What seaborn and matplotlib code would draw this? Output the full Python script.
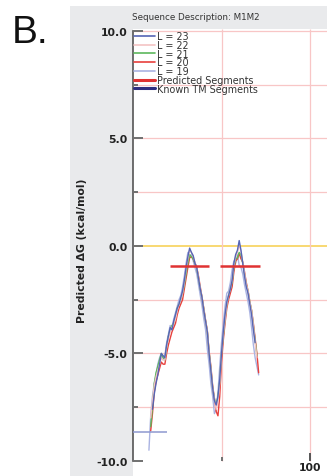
import numpy as np
import pandas as pd
import matplotlib
matplotlib.use("Agg")
import matplotlib.pyplot as plt
import seaborn as sns
from matplotlib.lines import Line2D
from matplotlib.patches import Rectangle

# ---------------- data ----------------
series_labels = ["L = 23", "L = 22", "L = 21", "L = 20", "L = 19"]
series_start = [11, 10, 10, 10, 9]
dg_L23 = [-7.6, -6.9, -6.4, -6.0, -5.5, -5.0, -5.1, -5.2, -4.6, -4.2, -3.8, -3.9, -3.5, -3.2, -2.9,
          -2.7, -2.4, -2.1, -1.6, -1.0, -0.5, -0.1, -0.3, -0.45, -0.8, -1.0, -1.5, -2.0, -2.4, -3.0,
          -3.5, -4.0, -5.0, -5.8, -6.6, -7.2, -7.4, -7.0, -6.2, -5.0, -4.0, -3.2, -2.6, -2.3, -2.0,
          -1.6, -0.8, -0.4, -0.2, 0.25, -0.2, -0.8, -1.4, -1.9, -2.2, -2.7, -3.2, -3.9, -4.5]
dg_L22 = [-8.0, -7.2, -6.5, -6.1, -5.8, -5.5, -5.2, -5.3, -5.3, -4.7, -4.3, -4.0, -3.8, -3.6, -3.4,
          -3.0, -2.7, -2.5, -2.2, -1.7, -1.1, -0.6, -0.2, -0.3, -0.5, -0.75, -1.0, -1.45, -1.95, -2.4,
          -2.95, -3.5, -4.0, -5.0, -5.7, -6.6, -7.1, -7.6, -7.2, -6.4, -5.0, -4.1, -3.4, -2.7, -2.3,
          -2.0, -1.6, -0.9, -0.5, -0.3, 0.05, -0.25, -0.75, -1.25, -1.8, -2.1, -2.6, -3.0, -3.7, -4.5, -5.2]
dg_L21 = [-8.4, -7.5, -6.4, -5.9, -5.6, -5.3, -5.0, -5.2, -5.3, -4.7, -4.2, -3.9, -3.7, -3.6, -3.3,
          -2.9, -2.7, -2.5, -2.2, -1.8, -1.3, -0.8, -0.4, -0.5, -0.6, -0.8, -1.05, -1.5, -2.0, -2.4,
          -2.95, -3.5, -4.0, -4.95, -5.7, -6.6, -7.1, -7.4, -7.0, -6.3, -5.0, -4.2, -3.4, -2.7, -2.3,
          -2.0, -1.7, -1.0, -0.6, -0.55, -0.3, -0.4, -0.8, -1.3, -1.8, -2.1, -2.6, -3.0, -3.7, -4.4, -5.1]
dg_L20 = [-8.6, -7.8, -6.8, -6.3, -6.0, -5.7, -5.4, -5.5, -5.5, -5.0, -4.6, -4.3, -4.0, -3.8, -3.6,
          -3.2, -2.9, -2.7, -2.5, -2.0, -1.5, -1.0, -0.55, -0.5, -0.6, -0.8, -1.0, -1.4, -1.9, -2.4,
          -2.9, -3.45, -3.95, -4.9, -5.6, -6.5, -7.1, -7.7, -7.9, -7.0, -5.4, -4.4, -3.6, -2.9, -2.5,
          -2.2, -1.9, -1.2, -0.7, -0.6, -0.35, -0.6, -0.75, -1.2, -1.7, -2.1, -2.6, -3.0, -3.6, -4.3,
          -5.0, -5.9]
dg_L19 = [-9.5, -7.9, -7.0, -6.4, -6.0, -5.5, -5.2, -5.0, -5.3, -5.1, -4.5, -4.1, -3.7, -3.8, -3.4,
          -3.1, -2.8, -2.5, -2.3, -1.9, -1.4, -0.8, -0.3, -0.5, -0.4, -0.7, -1.0, -1.3, -1.8, -2.3,
          -2.8, -3.4, -3.9, -4.8, -5.5, -6.4, -7.0, -7.8, -7.6, -6.8, -5.6, -4.5, -3.6, -2.8, -2.2,
          -2.1, -1.7, -1.1, -0.7, -0.8, -0.4, -0.9, -1.0, -1.3, -1.8, -2.2, -2.6, -3.1, -3.8, -4.6,
          -5.2, -5.6, -6.0]
series_values = [dg_L23, dg_L22, dg_L21, dg_L20, dg_L19]

pred_start = [21, 49]
pred_end = [43, 72]
pred_dg = [-0.93, -0.93]
known_start = [0]
known_end = [19]
known_dg = [-8.65]

y_tick_values = [-10, -5, 0, 5, 10]
y_tick_labels = ["-10.0", "-5.0", "0.0", "5.0", "10.0"]
x_tick_values = [100]
x_tick_labels = ["100"]

# ---------------- build table ----------------
rows = []
for lab, st, vals in zip(series_labels, series_start, series_values):
    for i, v in enumerate(vals):
        rows.append({"pos": st + i, "dg": v, "L": lab})
df = pd.DataFrame(rows)

palette = {"L = 23": "#5565b5", "L = 22": "#f4c4c4", "L = 21": "#5cb85c",
           "L = 20": "#e8403c", "L = 19": "#aab3e2"}
pred_color = "#e03232"
known_color = "#2e2e80"
grid_color = "#f8c6c6"

# ---------------- figure ----------------
sns.set_theme(style="white")
plt.rcParams["font.family"] = ["DejaVu Sans"]
W, H = 327, 477
fig = plt.figure(figsize=(W / 100, H / 100), dpi=100)
fig.patch.set_facecolor("white")
bg = Rectangle((70 / W, 0), (W - 70) / W, 470 / H, transform=fig.transFigure,
               facecolor="#e9eaec", edgecolor="none", zorder=-10)
fig.patches.append(bg)

ax_left, ax_top = 133, 30
xmax = 150
pxu = 1.77
ax = fig.add_axes([ax_left / W, 0, xmax * pxu / W, (H - ax_top) / H])
ax.set_zorder(5)
ax.set_facecolor("white")
ax.set_xlim(0, xmax)
ax.set_ylim(-10.70, 10.09)

# grid lines
for yv in [-7.5, -5, -2.5, 2.5, 5, 7.5, 10]:
    ax.hlines(yv, 0, xmax, color=grid_color, lw=0.9, zorder=1)
ax.hlines(0, 0, xmax, color="#f7d25a", lw=1.2, zorder=1)
for xv in [50, 100]:
    ax.vlines(xv, -10, 10.09, color=grid_color, lw=0.9, zorder=1)

sns.lineplot(data=df, x="pos", y="dg", hue="L", hue_order=series_labels[::-1],
             palette=palette, lw=1.0, ax=ax, legend=False, estimator=None, sort=False, zorder=3)

ax.hlines(pred_dg, pred_start, pred_end, color=pred_color, lw=1.8, zorder=4)
ax.hlines(known_dg, known_start, known_end, color="#8e99d0", lw=1.1, zorder=4)

# axes styling
for s in ["top", "right"]:
    ax.spines[s].set_visible(False)
ax.spines["left"].set_bounds(-10, 10)
ax.spines["left"].set_color("#555555")
ax.spines["left"].set_linewidth(1.2)
ax.spines["bottom"].set_position(("data", -10))
ax.spines["bottom"].set_visible(False)
ax.xaxis.set_zorder(10)
ax.yaxis.set_zorder(10)

ax.set_yticks(y_tick_values)
ax.set_yticklabels(y_tick_labels, fontweight="bold", fontsize=7.8, color="#222222")
ax.set_yticks([-7.5, -2.5, 2.5, 7.5], minor=True)
ax.tick_params(axis="y", which="major", direction="in", length=7, width=1.4, color="#707070", pad=4, left=True)
ax.tick_params(axis="y", which="minor", direction="in", length=3.5, width=1.4, color="#707070", left=True)
ax.set_xticks(x_tick_values)
ax.set_xticklabels(x_tick_labels, fontweight="bold", fontsize=7.8, color="#222222")
ax.set_xticks([50], minor=True)
ax.tick_params(axis="x", which="major", direction="in", length=6, width=1.4, color="#555555", pad=1, bottom=True)
ax.tick_params(axis="x", which="minor", direction="in", length=3, width=1.4, color="#707070", bottom=True)
ax.set_xlabel("")
ax.set_ylabel("Predicted ΔG (kcal/mol)", fontweight="bold", fontsize=7.8, color="#222222")
ax.yaxis.set_label_coords(-0.173, 0.506)

# legend
handles = [Line2D([], [], color=palette[l], lw=1.2) for l in series_labels]
handles += [Line2D([], [], color=pred_color, lw=2.2), Line2D([], [], color=known_color, lw=2.2)]
labels = series_labels + ["Predicted Segments", "Known TM Segments"]
leg = ax.legend(handles, labels, loc="upper left", bbox_to_anchor=(0.003, 0.995), frameon=False,
                fontsize=6.9, handlelength=2.2, handletextpad=0.2, labelspacing=-0.13,
                borderpad=0, borderaxespad=0)
for t in leg.get_texts():
    t.set_color("#333333")

fig.text(196 / W, 1 - 17 / H, "Sequence Description: M1M2", ha="center", va="center",
         fontsize=6.3, color="#333333", zorder=6)
fig.text(12 / W, 1 - 33 / H, "B.", ha="left", va="center", fontsize=28,
         family=["Liberation Sans", "DejaVu Sans"], color="#111111", zorder=6)

fig.savefig("out.png", dpi=100)
